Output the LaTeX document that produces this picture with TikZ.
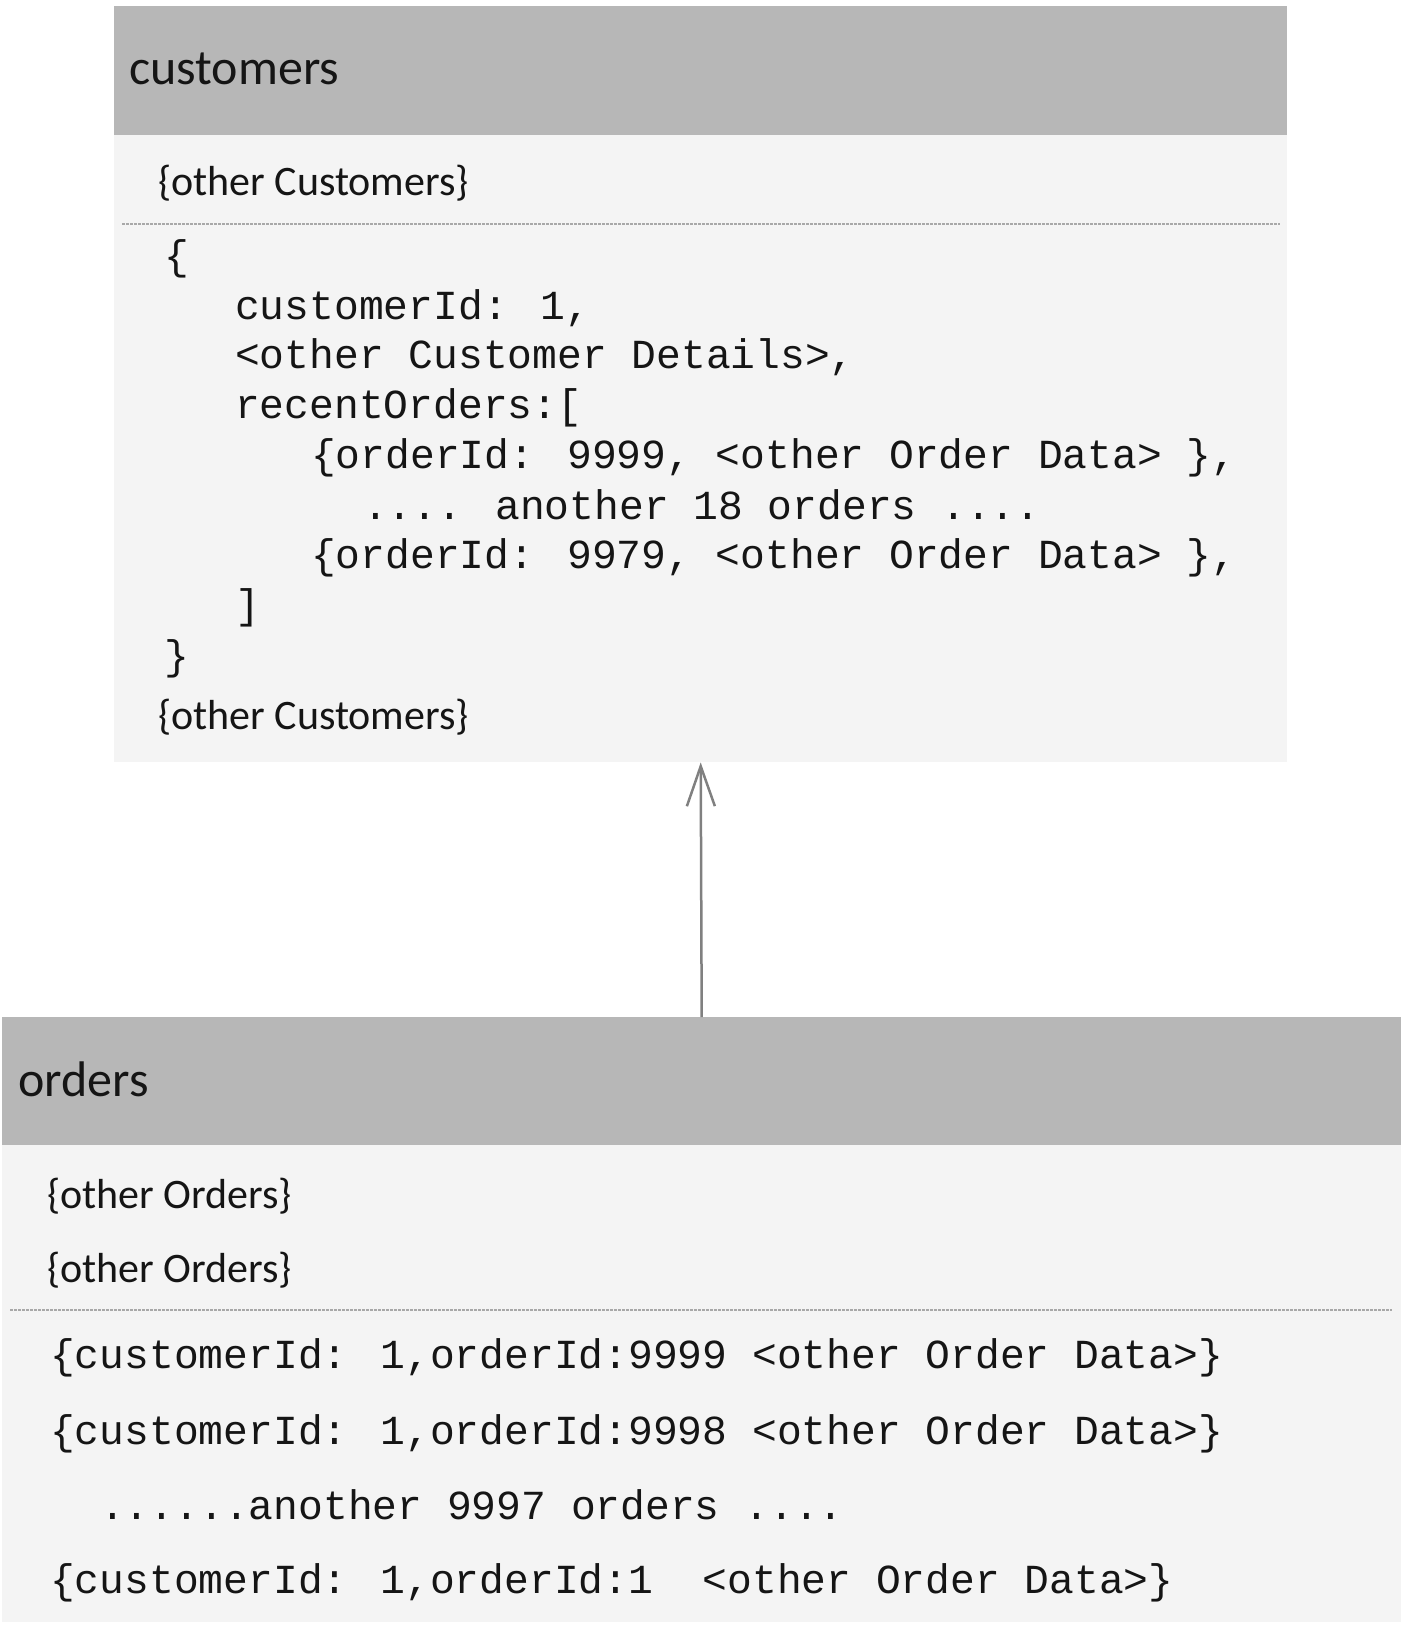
\documentclass[tikz,border=0pt]{standalone}
\usepackage{fontspec}
\setmainfont{Carlito}
\newfontfamily\codefont{Liberation Mono}
\usetikzlibrary{arrows.meta}
\definecolor{headgray}{HTML}{B7B7B7}
\definecolor{bodygray}{HTML}{F4F4F4}
\definecolor{linegray}{HTML}{808080}
\definecolor{dotgray}{HTML}{A8A8A8}
\definecolor{ink}{HTML}{151515}
\tikzset{
  headbox/.style={fill=headgray, draw=none, anchor=north west, inner sep=0pt},
  bodybox/.style={fill=bodygray, draw=none, anchor=north west, inner sep=0pt},
  title/.style={anchor=mid west, inner sep=0pt, yshift=-13pt, text=ink, font=\fontsize{50}{58}\selectfont},
  label/.style={anchor=mid west, inner sep=0pt, yshift=-12pt, text=ink, font=\fontsize{42}{50}\selectfont},
  code/.style={anchor=mid west, inner sep=0pt, yshift=-12pt, text=ink, font=\codefont\fontsize{41.3}{50}\selectfont},
  sep/.style={draw=dotgray, line width=1.2pt, dash pattern=on 2.5pt off 1.5pt},
  link/.style={draw=linegray, line width=2.5pt, -{Straight Barb[length=40pt, width=28pt, line width=2.5pt]}}
}
\begin{document}
\begin{tikzpicture}[x=1pt,y=-1pt]
\useasboundingbox (0,0) rectangle (1404,1625);
% customers table
\node[headbox, minimum width=1173pt, minimum height=129pt] (custhead) at (114,6) {};
\node[bodybox, minimum width=1173pt, minimum height=627pt] (custbody) at (114,135) {};
\node[title] (custtitle) at (129,69) {customers};
\node[label] (custother1) at (158,181) {\{other Customers\}};
\coordinate (cs1) at (122,224);
\coordinate (cs2) at (1280,224);
\draw[sep] (cs1) -- (cs2);
\node[code] (c1) at (164,255) {\{};
\node[code] (c2) at (235,305) {customerId: 1,};
\node[code] (c3) at (235,354) {<other Customer Details>,};
\node[code] (c4) at (235,404) {recentOrders:[};
\node[code] (c5) at (311,454) {\{orderId: 9999, <other Order Data> \},};
\node[code] (c6) at (363,505) {.... another 18 orders ....};
\node[code] (c7) at (311,554) {\{orderId: 9979, <other Order Data> \},};
\node[code] (c8) at (235,604) {]};
\node[code] (c9) at (164,655) {\}};
\node[label] (custother2) at (158,715) {\{other Customers\}};
% orders table
\node[headbox, minimum width=1399pt, minimum height=128pt] (ordhead) at (2,1017) {};
\node[bodybox, minimum width=1399pt, minimum height=477pt] (ordbody) at (2,1145) {};
\node[title] (ordtitle) at (18,1081) {orders};
\node[label] (ordother1) at (47,1194) {\{other Orders\}};
\node[label] (ordother2) at (47,1268) {\{other Orders\}};
\coordinate (os1) at (10,1310);
\coordinate (os2) at (1392,1310);
\draw[sep] (os1) -- (os2);
\node[code] (o1) at (50,1354) {\{customerId: 1,orderId:9999 <other Order Data>\}};
\node[code] (o2) at (50,1430) {\{customerId: 1,orderId:9998 <other Order Data>\}};
\node[code] (o3) at (100,1505) {......another 9997 orders ....};
\node[code] (o4) at (50,1579) {\{customerId: 1,orderId:1\ \ <other Order Data>\}};
% connector
\draw[link] (ordhead.north) -- (custbody.south);
\end{tikzpicture}
\end{document}
